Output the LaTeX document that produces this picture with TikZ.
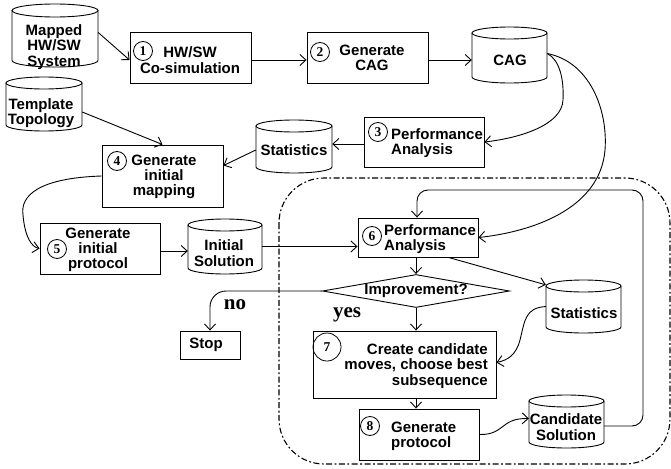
\documentclass[tikz,border=0pt]{standalone}
\usepackage{fontspec}
\setmainfont{Liberation Sans}
\newfontfamily\serifnum{Liberation Serif}
\usetikzlibrary{arrows.meta,shapes.geometric,calc}

\tikzset{
 lbl/.style={font=\bfseries\fontsize{15}{15.3}\selectfont, align=center, inner sep=0pt},
 lbll/.style={lbl, align=left, anchor=west},
 boxr/.style={draw, line width=0.9pt, inner sep=0pt},
 numc/.style={draw, circle, line width=0.8pt, inner sep=0pt, minimum size=19pt, font=\serifnum\bfseries\fontsize{13.5}{13.5}\selectfont},
 cyl/.style={line width=0.9pt},
 arr/.style={line width=0.9pt, -{Straight Barb[length=6pt,width=11pt]}},
 yn/.style={font=\serifnum\bfseries\fontsize{21}{21}\selectfont, inner sep=0pt},
 frame/.style={line width=1.1pt, dash pattern=on 6pt off 2.5pt on 1.8pt off 2.5pt},
}

% name x1 y1 x2 y2
\newcommand\mkbox[5]{%
 \pgfmathsetmacro\myBW{#4-#2}\pgfmathsetmacro\myBH{#5-#3}%
 \pgfmathsetmacro\myBX{(#2+#4)/2}\pgfmathsetmacro\myBY{(#3+#5)/2}%
 \node[boxr, minimum width=\myBW pt, minimum height=\myBH pt] (#1) at (\myBX,\myBY) {};}

% name x1 y1 x2 y2 ry
\newcommand\mkcyl[6]{%
 \pgfmathsetmacro\myCW{#4-#2}\pgfmathsetmacro\myCH{#5-#3}%
 \pgfmathsetmacro\myCX{(#2+#4)/2}\pgfmathsetmacro\myCY{(#3+#5)/2}%
 \pgfmathsetmacro\myRX{(#4-#2)/2}%
 \node[inner sep=0pt, minimum width=\myCW pt, minimum height=\myCH pt] (#1) at (\myCX,\myCY) {};
 \draw[cyl] (\myCX,#3+#6) ellipse[x radius=\myRX, y radius=#6];
 \draw[cyl] (#2,#3+#6) -- (#2,#5-#6) arc[start angle=180, end angle=0, x radius=\myRX, y radius=#6] -- (#4,#3+#6);}

\begin{document}
\begin{tikzpicture}[x=1pt,y=-1pt]
\useasboundingbox (0,0) rectangle (671,468);

% dash-dot frame
\draw[frame, rounded corners=45pt] (279,178) rectangle (670,464);

% cylinders
\mkcyl{mapped}{12}{4}{98}{67}{6.5}
\node[lbl] (mapped-t) at (54,47) {Mapped\\HW/SW\\System};
\mkcyl{template}{6}{77}{82}{131}{6}
\node[lbl] (template-t) at (41,113) {Template\\Topology};
\mkcyl{cag}{472}{27}{547}{83}{6}
\node[lbl] (cag-t) at (510,60) {CAG};
\mkcyl{stats1}{256}{120}{332}{173}{6}
\node[lbl] (stats1-t) at (294,150) {Statistics};
\mkcyl{initsol}{188}{219}{262}{274}{6}
\node[lbl] (initsol-t) at (224,253) {Initial\\Solution};
\mkcyl{stats2}{546}{280}{621}{333}{6}
\node[lbl] (stats2-t) at (584,313) {Statistics};
\mkcyl{candsol}{529}{395}{604}{448}{6}
\node[lbl] (candsol-t) at (566,427) {Candidate\\Solution};

% boxes
\mkbox{b1}{130}{32}{251}{83}
\node[lbl] (b1-t) at (190,60) {HW/SW\\Co-simulation};
\node[numc] (n1) at (143,51) {1};
\mkbox{b2}{307}{32}{428}{83}
\node[lbl] (b2-t) at (372,58) {Generate\\CAG};
\node[numc] (n2) at (320,52) {2};
\mkbox{b3}{364}{117}{484}{167}
\node[lbll] (b3-t) at (391,143) {Performance\\Analysis};
\node[numc] (n3) at (378,132) {3};
\mkbox{b4}{102}{145}{223}{207}
\node[lbl] (b4-t) at (164,177) {Generate\\initial\\mapping};
\node[numc] (n4) at (117,161) {4};
\mkbox{b5}{40}{223}{160}{274}
\node[lbl] (b5-t) at (98,250) {Generate\\initial\\protocol};
\node[numc] (n5) at (57,249) {5};
\mkbox{b6}{358}{218}{478}{257}
\node[lbll] (b6-t) at (384,239) {Performance\\Analysis};
\node[numc] (n6) at (372,236) {6};
\node[draw, diamond, line width=0.9pt, aspect=5.67, minimum width=187pt, minimum height=33pt, inner sep=0pt, lbl] (imp) at (416,291) {Improvement?};
\mkbox{stop}{180}{331}{240}{359}
\node[lbl] (stop-t) at (206,345) {Stop};
\mkbox{b7}{313}{331}{496}{398}
\node[lbl, align=right, anchor=east] (b7-t) at (488,366) {Create candidate\\moves, choose best\\subsequence};
\node[numc, minimum size=28pt] (n7) at (327,347) {7};
\mkbox{b8}{359}{409}{479}{460}
\node[lbll] (b8-t) at (391,436) {Generate\\protocol};
\node[numc] (n8) at (370,426) {8};

% labels
\node[yn] (no) at (235,305) {no};
\node[yn] (yes) at (347,315) {yes};

% connectors
\draw[arr] ($(mapped.east)+(0,-3)$) -- ($(b1.west)+(0,2.5)$);
\draw[arr] ($(b1.east)+(0,2.5)$) -- ($(b2.west)+(0,2.5)$);
\draw[arr] ($(b2.east)+(0,2.5)$) -- (cag.west |- {0,60});
\draw[arr] ($(cag.east)+(0,-1.5)$) .. controls (560,60) and (564,80) .. (563,100)
   .. controls (562,125) and (520,138) .. ($(b3.east)+(0,0)$);
\draw[arr] ($(cag.east)+(0,-1.5)$) .. controls (590,62) and (608,110) .. (605,150)
   .. controls (600,210) and (530,232) .. (b6.east);
\draw[arr] ($(b3.west)+(0,2)$) -- ($(stats1.east |- b3.west)+(0,2)$);
\draw[arr] ($(template.east)+(0,8)$) -- (b4.north);
\draw[arr] ($(stats1.west)+(0,3.5)$) -- ($(b4.north east)+(0,21)$);
\draw[arr] (b4.west) .. controls (40,178) and (20,195) .. (23,215)
   .. controls (25,238) and (32,247) .. (b5.west);
\draw[arr] ($(b5.east)+(0,2.5)$) -- ($(initsol.west |- b5.east)+(0,2.5)$);
\draw[arr] (initsol.east) -- (b6.west |- initsol.east);
\coordinate (loopA) at (643,426);
\coordinate (loopB) at (643,190);
\coordinate (loopC) at (417,190);
\draw[arr, rounded corners=11pt] ($(candsol.east)+(0,4.5)$) -- (loopA) -- (loopB) -- (loopC) -- (loopC |- b6.north);
\draw[arr] (b6.south -| imp.north) -- (imp.north);
\draw[arr] ($(b6.south east)+(-30,0)$) -- ($(stats2.north west)+(0,5)$);
\draw[arr, rounded corners=16pt] (imp.west) -| (stop.north);
\draw[arr] (imp.south) -- (imp.south |- b7.north);
\draw[arr] (stats2.west) .. controls (525,308) and (525,320) .. (520,340)
   .. controls (516,355) and (508,360) .. ($(b7.east)+(0,-2)$);
\draw[arr] (imp.south |- b7.south) -- (imp.south |- b8.north);
\draw[arr] (b8.east) .. controls (505,435) and (500,418) .. ($(candsol.west)+(0,-3)$);
\end{tikzpicture}
\end{document}
